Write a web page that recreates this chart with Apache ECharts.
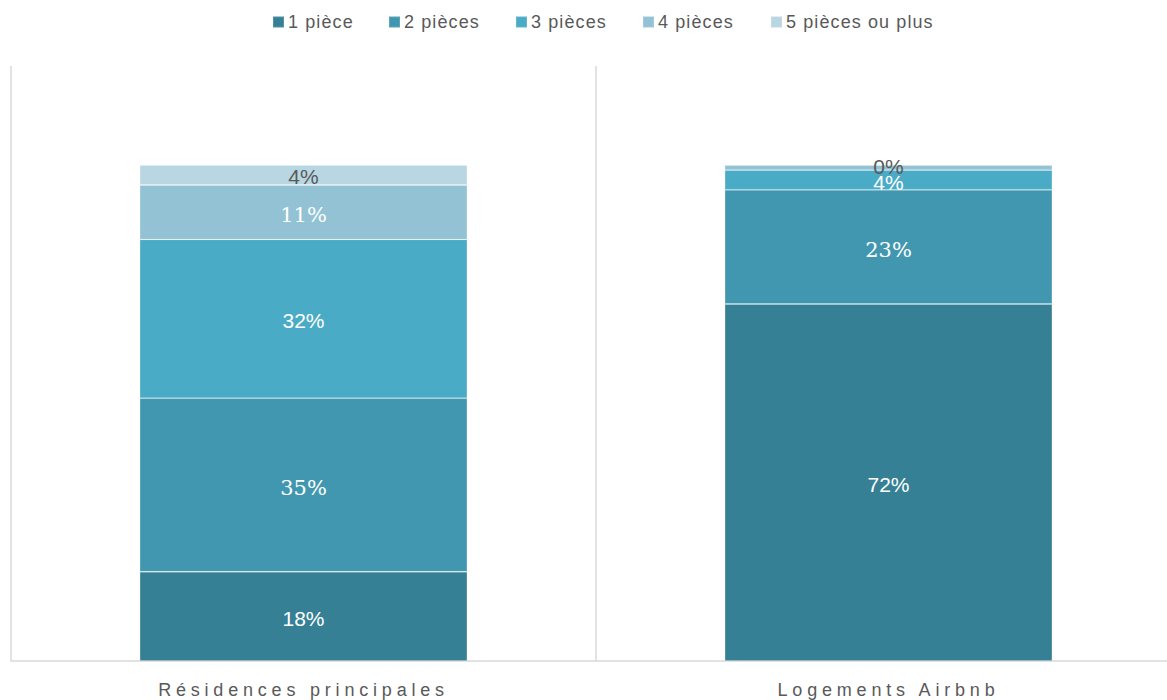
<!DOCTYPE html>
<html>
<head>
<meta charset="utf-8">
<script src="https://cdn.jsdelivr.net/npm/echarts@6/dist/echarts.min.js"></script>
<style>
html,body{margin:0;padding:0;background:#fff;overflow:hidden;width:1167px;height:700px;}
#chart{width:1190px;height:700px;}
</style>
</head>
<body>
<div id="chart"></div>
<script>
var categories = ['Résidences principales', 'Logements Airbnb'];
var seriesNames = ['1 pièce', '2 pièces', '3 pièces', '4 pièces', '5 pièces ou plus'];
var onePiece = [18, 72];
var twoPieces = [35, 23];
var threePieces = [32, 4];
var fourPieces = [11, 1];
var fivePlus = [4, 0];
var hiddenLabels = [[], [], [], [1], []]; // data indexes whose label is not drawn

var colors = ['#368095', '#4297b0', '#4aabc6', '#92c2d4', '#b9d6e3'];
var labelColors = ['#ffffff', '#ffffff', '#ffffff', '#ffffff', '#595959'];
var labelFonts = ['Liberation Sans', 'DejaVu Serif', 'Liberation Sans', 'DejaVu Serif', 'Liberation Sans'];
var labelSizes = [21, 21, 21, 21, 21];
var labelShift = [2, 3, 2, 3, 1];
var legendLefts = [267, 383, 510, 637, 765];

var allValues = [onePiece, twoPieces, threePieces, fourPieces, fivePlus];

var chart = echarts.init(document.getElementById('chart'), null, {renderer: 'svg', width: 1190, height: 700});

var series = seriesNames.map(function (name, i) {
  return {
    name: name,
    type: 'bar',
    stack: 'total',
    barWidth: '56%',
    itemStyle: {color: colors[i], borderColor: 'rgba(255,255,255,0.14)', borderWidth: 0.8},
    label: {
      show: true,
      position: 'inside',
      offset: [0, labelShift[i]],
      color: labelColors[i],
      fontFamily: labelFonts[i],
      fontSize: labelSizes[i],
      formatter: function (p) { return Math.round(p.value) + '%'; }
    },
    emphasis: {disabled: true},
    data: allValues[i].map(function (v, j) {
      if (hiddenLabels[i].indexOf(j) >= 0) return {value: v, label: {show: false}};
      return v;
    })
  };
});

var legends = seriesNames.map(function (name, i) {
  return {
    data: [name],
    left: legendLefts[i],
    top: 8,
    icon: 'rect',
    itemWidth: 11,
    itemHeight: 11,
    selectedMode: false,
    textStyle: {color: '#595959', fontSize: 18, fontFamily: 'Liberation Sans', padding: [0, 0, 0, -1]}
  };
});

chart.setOption({
  animation: false,
  legend: legends,
  grid: {left: 11, top: 66, width: 1170, height: 595, containLabel: false},
  xAxis: {
    type: 'category',
    data: categories,
    axisLine: {show: true, lineStyle: {color: '#d9d9d9', width: 1.5}},
    axisTick: {show: false},
    splitLine: {show: true, lineStyle: {color: '#d9d9d9', width: 1.5}},
    axisLabel: {color: '#595959', fontSize: 18, fontFamily: 'Liberation Sans', margin: 20}
  },
  yAxis: {
    type: 'value',
    min: 0,
    max: 120,
    show: false,
    splitLine: {show: false}
  },
  series: series
});

function spaceText() {
  var texts = document.querySelectorAll('#chart text');
  texts.forEach(function (t) {
    var c = t.textContent;
    if (categories.indexOf(c) >= 0) {
      t.style.letterSpacing = '4.8px';
    } else if (seriesNames.indexOf(c) >= 0) {
      t.style.letterSpacing = '1.1px';
    }
  });
}
chart.on('finished', spaceText);
chart.on('rendered', spaceText);
spaceText();
</script>
</body>
</html>
